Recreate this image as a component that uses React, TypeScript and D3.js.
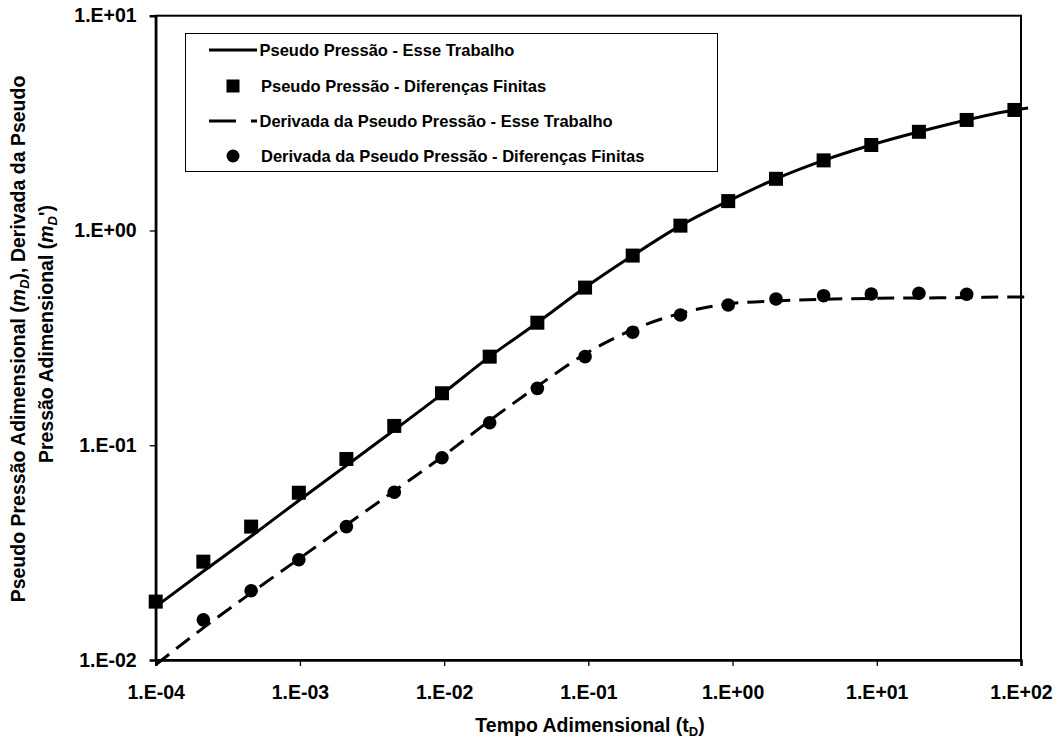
import * as d3 from "d3";
import { useEffect, useRef } from "react";

// tempo adimensional (tD) dos pontos
const tD = [
  1.0e-4, 2.14e-4, 4.59e-4, 9.83e-4, 2.1e-3, 4.51e-3, 9.66e-3, 2.07e-2, 4.43e-2,
  9.49e-2, 0.203, 0.435, 0.933, 2.0, 4.28, 9.16, 19.6, 42.0, 90.0,
];
// pseudo pressao - diferencas finitas (quadrados)
const mdFD = [
  0.0187, 0.0287, 0.0418, 0.0601, 0.0863, 0.123, 0.1746, 0.2585, 0.372, 0.542,
  0.764, 1.053, 1.37, 1.74, 2.12, 2.5, 2.88, 3.27, 3.64,
];
// derivada - diferencas finitas (circulos), tD[1]..tD[17]
const dTD = tD.slice(1, 18);
const derivFD = [
  0.01538, 0.021, 0.0293, 0.0418, 0.0604, 0.0875, 0.1273, 0.184, 0.2585, 0.336,
  0.404, 0.45, 0.48, 0.497, 0.506, 0.51, 0.505,
];
// curvas "esse trabalho"
const lineTD = [...tD, 112];
const mdLine = [
  0.01772, 0.02589, 0.0377, 0.0553, 0.0805, 0.1177, 0.173, 0.2585, 0.372, 0.542,
  0.764, 1.053, 1.37, 1.74, 2.12, 2.5, 2.88, 3.27, 3.64, 3.72,
];
const derivLine = [
  0.0095, 0.01411, 0.02053, 0.02956, 0.04256, 0.06126, 0.0882, 0.1303, 0.188,
  0.266, 0.345, 0.411, 0.455, 0.47, 0.478, 0.483, 0.485, 0.487, 0.49, 0.49,
];

const xTicks = [1e-4, 1e-3, 1e-2, 1e-1, 1e0, 1e1, 1e2];
const xTickLabels = ["1.E-04", "1.E-03", "1.E-02", "1.E-01", "1.E+00", "1.E+01", "1.E+02"];
const yTicks = [1e-2, 1e-1, 1e0, 1e1];
const yTickLabels = ["1.E-02", "1.E-01", "1.E+00", "1.E+01"];

const legendLabels = [
  "Pseudo Pressão - Esse Trabalho",
  "Pseudo Pressão - Diferenças Finitas",
  "Derivada da Pseudo Pressão - Esse Trabalho",
  "Derivada da Pseudo Pressão - Diferenças Finitas",
];

const FONT = "'Liberation Sans', Arial, sans-serif";

export default function App() {
  const svgRef = useRef<SVGSVGElement>(null);

  const width = 1060;
  const height = 742;
  const plot = { left: 155.7, right: 1021, top: 15.7, bottom: 660 };

  useEffect(() => {
    const svg = d3.select(svgRef.current);
    svg.selectAll("*").remove();

    const x = d3.scaleLog().domain([1e-4, 1e2]).range([plot.left, plot.right]);
    const y = d3.scaleLog().domain([1e-2, 1e1]).range([plot.bottom, plot.top]);

    const g = svg.append("g").attr("font-family", FONT).attr("font-weight", "bold");

    // moldura da area de plotagem
    g.append("rect")
      .attr("x", plot.left)
      .attr("y", plot.top)
      .attr("width", plot.right - plot.left)
      .attr("height", plot.bottom - plot.top)
      .attr("fill", "none")
      .attr("stroke", "#000")
      .attr("stroke-width", 2);

    // eixo x
    const xAxis = d3
      .axisBottom(x)
      .tickValues(xTicks)
      .tickSize(6)
      .tickFormat((d, i) => xTickLabels[i]);
    const gx = g
      .append("g")
      .attr("transform", `translate(0, ${plot.bottom})`)
      .call(xAxis);
    gx.select(".domain").attr("stroke-width", 2.5);
    gx.selectAll(".tick line").attr("stroke-width", 1.3);
    gx.selectAll(".tick text")
      .attr("dy", null)
      .attr("y", 39.3)
      .attr("font-size", 19.5)
      .attr("font-family", FONT)
      .attr("font-weight", "bold")
      .attr("fill", "#000");

    // eixo y
    const yAxis = d3
      .axisLeft(y)
      .tickValues(yTicks)
      .tickSize(6)
      .tickFormat((d, i) => yTickLabels[i]);
    const gy = g
      .append("g")
      .attr("transform", `translate(${plot.left}, 0)`)
      .call(yAxis);
    gy.select(".domain").attr("stroke-width", 2.5);
    gy.selectAll(".tick line").attr("stroke-width", 1.3);
    gy.selectAll(".tick text")
      .attr("x", -19)
      .attr("font-size", 19.5)
      .attr("font-family", FONT)
      .attr("font-weight", "bold")
      .attr("fill", "#000");

    // curvas
    const line = d3
      .line<[number, number]>()
      .x((d) => x(d[0]))
      .y((d) => y(d[1]))
      .curve(d3.curveMonotoneX);

    g.append("path")
      .attr("d", line(lineTD.map((t, i) => [t, mdLine[i]])))
      .attr("fill", "none")
      .attr("stroke", "#000")
      .attr("stroke-width", 3);

    g.append("path")
      .attr("d", line(lineTD.map((t, i) => [t, derivLine[i]])))
      .attr("fill", "none")
      .attr("stroke", "#000")
      .attr("stroke-width", 3)
      .attr("stroke-dasharray", "17,9");

    // marcadores
    const sq = 14;
    g.selectAll(".sq")
      .data(tD.map((t, i) => [t, mdFD[i]]))
      .enter()
      .append("rect")
      .attr("x", (d) => x(d[0]) - sq / 2)
      .attr("y", (d) => y(d[1]) - sq / 2)
      .attr("width", sq)
      .attr("height", sq)
      .attr("fill", "#000");

    g.selectAll(".ci")
      .data(dTD.map((t, i) => [t, derivFD[i]]))
      .enter()
      .append("circle")
      .attr("cx", (d) => x(d[0]))
      .attr("cy", (d) => y(d[1]))
      .attr("r", 6.8)
      .attr("fill", "#000");

    // legenda
    const lg = g.append("g");
    lg.append("rect")
      .attr("x", 185.5)
      .attr("y", 33.5)
      .attr("width", 532)
      .attr("height", 138)
      .attr("fill", "#fff")
      .attr("stroke", "#000")
      .attr("stroke-width", 1);
    const rowY = [50, 86, 121, 156];
    lg.append("line")
      .attr("x1", 209).attr("x2", 257).attr("y1", rowY[0]).attr("y2", rowY[0])
      .attr("stroke", "#000").attr("stroke-width", 3);
    lg.append("rect")
      .attr("x", 233 - 6.5).attr("y", rowY[1] - 6.5).attr("width", 13).attr("height", 13)
      .attr("fill", "#000");
    lg.append("line")
      .attr("x1", 209).attr("x2", 257).attr("y1", rowY[2]).attr("y2", rowY[2])
      .attr("stroke", "#000").attr("stroke-width", 3).attr("stroke-dasharray", "27,15");
    lg.append("circle")
      .attr("cx", 233).attr("cy", rowY[3]).attr("r", 6.5).attr("fill", "#000");
    lg.selectAll(".lt")
      .data(legendLabels)
      .enter()
      .append("text")
      .attr("x", (d, i) => (i % 2 === 0 ? 259.5 : 261))
      .attr("y", (d, i) => rowY[i])
      .attr("dy", "0.36em")
      .attr("font-size", 16.5)
      .attr("fill", "#000")
      .text((d) => d);

    // titulo eixo x
    const xt = g
      .append("text")
      .attr("x", 590)
      .attr("y", 732)
      .attr("text-anchor", "middle")
      .attr("font-size", 19.5)
      .attr("fill", "#000");
    xt.append("tspan").text("Tempo Adimensional (t");
    xt.append("tspan").attr("font-size", 13).attr("dy", 4).text("D");
    xt.append("tspan").attr("dy", -4).text(")");

    // titulo eixo y (duas linhas)
    const y1 = g
      .append("text")
      .attr("transform", "translate(25, 339) rotate(-90)")
      .attr("text-anchor", "middle")
      .attr("font-size", 19.5)
      .attr("fill", "#000");
    y1.append("tspan").text("Pseudo Pressão Adimensional (");
    y1.append("tspan").attr("font-style", "italic").text("m");
    y1.append("tspan").attr("font-style", "italic").attr("font-size", 13).attr("dy", 4).text("D");
    y1.append("tspan").attr("dy", -4).text("), Derivada da Pseudo");

    const y2 = g
      .append("text")
      .attr("transform", "translate(53, 334) rotate(-90)")
      .attr("text-anchor", "middle")
      .attr("font-size", 19.5)
      .attr("fill", "#000");
    y2.append("tspan").text("Pressão Adimensional (");
    y2.append("tspan").attr("font-style", "italic").text("m");
    y2.append("tspan").attr("font-style", "italic").attr("font-size", 13).attr("dy", 4).text("D");
    y2.append("tspan").attr("dy", -4).text("')");
  }, []);

  return (
    <svg
      ref={svgRef}
      width={width}
      height={height}
      style={{ position: "absolute", left: 0, top: 0, background: "#fff" }}
    />
  );
}
